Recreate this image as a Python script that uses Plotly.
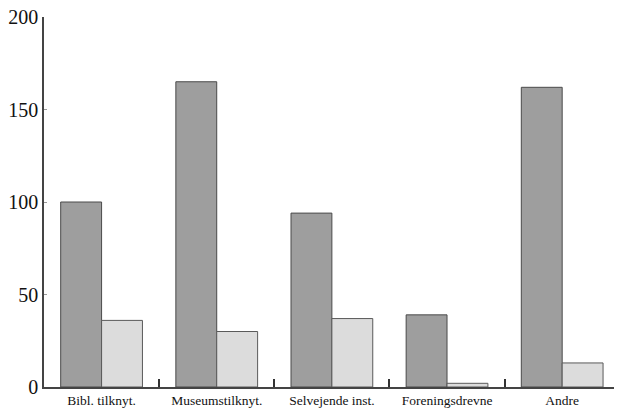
import plotly.graph_objects as go

categories = ["Bibl. tilknyt.", "Museumstilknyt.", "Selvejende inst.", "Foreningsdrevne", "Andre"]
series_a = [100, 165, 94, 39, 162]
series_b = [36, 30, 37, 2, 13]
y_ticks = [0, 50, 100, 150, 200]

fig = go.Figure()
fig.add_trace(go.Bar(x=categories, y=series_a, name="A",
                     marker=dict(color="#9e9e9e", line=dict(color="#4a4a4a", width=1))))
fig.add_trace(go.Bar(x=categories, y=series_b, name="B",
                     marker=dict(color="#dcdcdc", line=dict(color="#5a5a5a", width=1))))

fig.update_layout(
    width=619, height=409,
    margin=dict(l=44, r=5, t=17, b=22),
    paper_bgcolor="white", plot_bgcolor="white",
    barmode="group", bargap=0.29, bargroupgap=0,
    showlegend=False,
    font=dict(family="Liberation Serif", color="#111111"),
)
fig.update_xaxes(
    automargin=False,
    range=[-0.5, 4.45], tickson="boundaries", ticks="inside", ticklen=8,
    tickcolor="#333333", tickwidth=1.5,
    showline=True, linecolor="#444444", linewidth=1.5,
    showgrid=False, tickfont=dict(size=13.5, family="Liberation Serif", color="#111111"),
)
fig.update_yaxes(
    automargin=False,
    range=[0, 200], tickvals=y_ticks, ticks="inside", ticklen=3, tickcolor="#999999",
    showline=True, linecolor="#444444", linewidth=1.5,
    showgrid=False, zeroline=False, tickfont=dict(size=20, family="Liberation Serif", color="#111111"),
)
fig.write_html("out.html", config={"displayModeBar": False},
               post_script="document.body.style.margin='0';document.body.style.overflow='hidden';")
